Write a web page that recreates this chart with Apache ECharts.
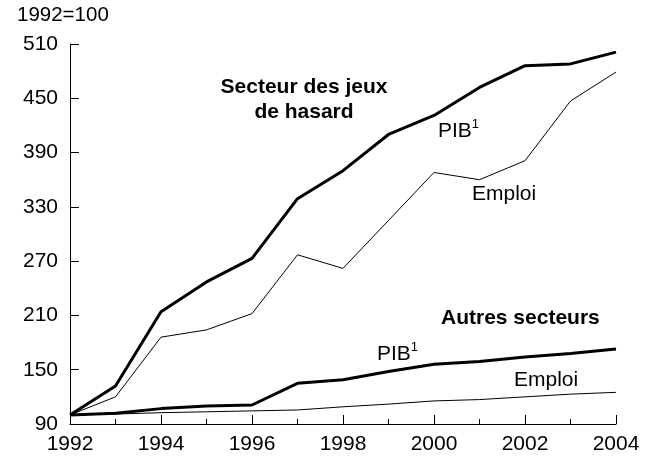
<!DOCTYPE html>
<html>
<head>
<meta charset="utf-8">
<script src="https://cdn.jsdelivr.net/npm/echarts@6/dist/echarts.min.js"></script>
<style>
  html, body { margin: 0; padding: 0; background: #fff; }
  #chart { width: 654px; height: 459px; }
</style>
</head>
<body>
<div id="chart"></div>
<script>
// années et indices (1992=100)
var years = [1992, 1993, 1994, 1995, 1996, 1997, 1998, 1999, 2000, 2001, 2002, 2003, 2004]
var jeuxPib = [100, 132, 214, 247, 273, 339, 370, 410, 431, 462, 486, 488, 501]
var jeuxEmploi = [100, 120, 186, 194, 212, 277, 262, 315, 368, 360, 381, 447, 479]
var autresPib = [100, 102, 107, 110, 111, 135, 139, 148, 156, 159, 164, 168, 173]
var autresEmploi = [100, 101, 102.5, 103.5, 104.5, 105.5, 109, 112, 115.5, 117, 120, 123, 125]
var yTicks = [90, 150, 210, 270, 330, 390, 450, 510]

var font = '"Liberation Sans", Arial, sans-serif'

function pairs(vals) {
  return years.map(function (y, i) { return [y, vals[i]] })
}

function line(name, vals, width) {
  return {
    name: name,
    type: 'line',
    data: pairs(vals),
    symbol: 'none',
    silent: true,
    lineStyle: { color: '#000', width: width },
    z: width > 2 ? 3 : 2
  }
}

function pibLabel(x, y) {
  return {
    type: 'text',
    left: x,
    top: y,
    style: {
      text: '{a|PIB}{s|1}',
      fill: '#000',
      rich: {
        a: { fontSize: 21, fontFamily: font, lineHeight: 24, verticalAlign: 'bottom' },
        s: { fontSize: 13, fontFamily: font, lineHeight: 24, verticalAlign: 'top' }
      }
    }
  }
}

var chart = echarts.init(document.getElementById('chart'))
chart.setOption({
  animation: false,
  backgroundColor: '#fff',
  grid: { left: 70, right: 38, top: 44, bottom: 35 },
  xAxis: {
    type: 'value',
    min: 1992,
    max: 2004,
    interval: 2,
    axisLine: { show: true, lineStyle: { color: '#000', width: 1 } },
    axisTick: { show: true, inside: true, length: 9, lineStyle: { color: '#000' } },
    minorTick: { show: true, splitNumber: 2, length: 5, lineStyle: { color: '#000' } },
    axisLabel: {
      color: '#000', fontSize: 21, fontFamily: font, margin: 10,
      formatter: function (v) { return String(v) }
    },
    splitLine: { show: false }
  },
  yAxis: {
    type: 'value',
    min: yTicks[0],
    max: yTicks[yTicks.length - 1],
    interval: 60,
    axisLine: { show: true, lineStyle: { color: '#000', width: 1 } },
    axisTick: { show: true, inside: true, length: 9, lineStyle: { color: '#000' } },
    axisLabel: { color: '#000', fontSize: 21, fontFamily: font, margin: 12 },
    splitLine: { show: false }
  },
  series: [
    line('Jeux PIB', jeuxPib, 3),
    line('Jeux Emploi', jeuxEmploi, 1),
    line('Autres PIB', autresPib, 3),
    line('Autres Emploi', autresEmploi, 1)
  ],
  graphic: [
    {
      type: 'text', left: 17, top: 5,
      style: { text: '1992=100', fill: '#000', fontSize: 20.5, fontFamily: font }
    },
    {
      type: 'text', x: 304, y: 75,
      style: {
        text: 'Secteur des jeux\nde hasard', fill: '#000', fontSize: 21, fontWeight: 'bold',
        fontFamily: font, align: 'center', verticalAlign: 'top', lineHeight: 25
      }
    },
    pibLabel(438, 118),
    {
      type: 'text', left: 472, top: 184,
      style: { text: 'Emploi', fill: '#000', fontSize: 21, fontFamily: font }
    },
    {
      type: 'text', left: 441, top: 308,
      style: { text: 'Autres secteurs', fill: '#000', fontSize: 21, fontWeight: 'bold', fontFamily: font }
    },
    pibLabel(377, 341),
    {
      type: 'text', left: 514, top: 370,
      style: { text: 'Emploi', fill: '#000', fontSize: 21, fontFamily: font }
    }
  ]
})
</script>
</body>
</html>
